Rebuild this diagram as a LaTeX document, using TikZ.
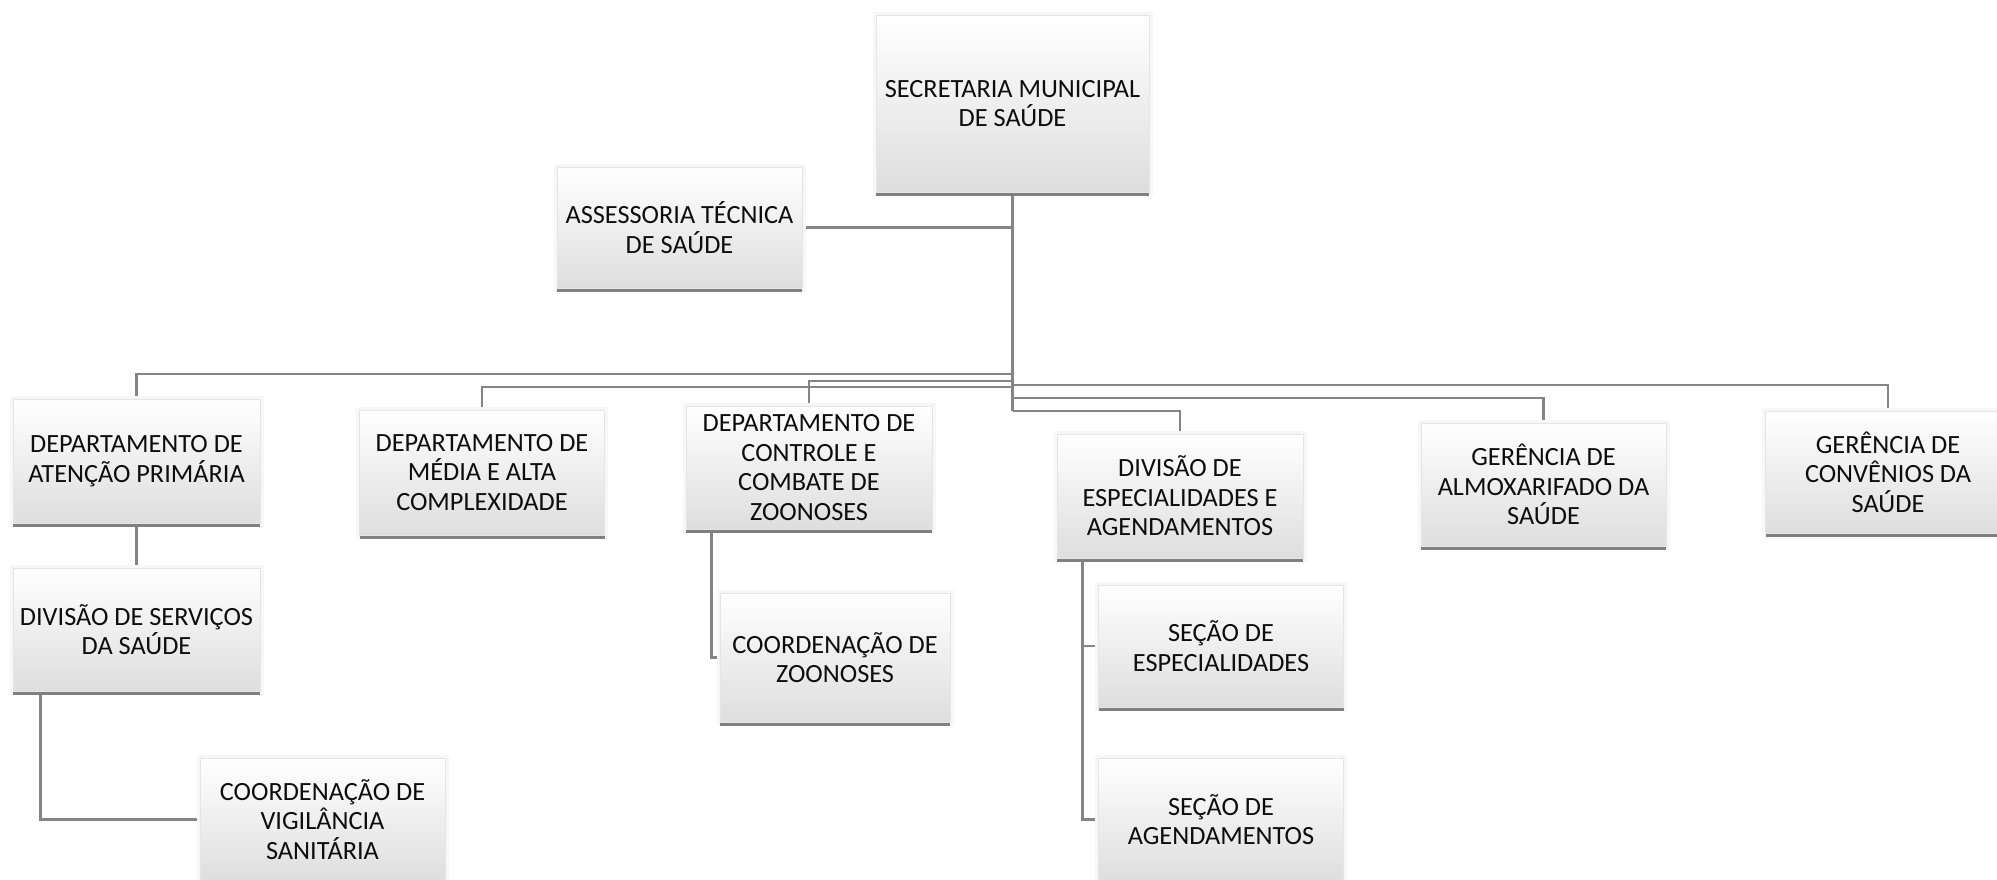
\documentclass[tikz,border=0pt]{standalone}
\usepackage{fontspec}
\setmainfont{Carlito}
\usetikzlibrary{shadows}
\pgfdeclarelayer{bg}
\pgfsetlayers{bg,main}
\newcommand\boxfont{\fontsize{26.3}{29.5}\selectfont}
\tikzset{
  orgbox/.style={rectangle, inner sep=0pt, align=center, font=\boxfont, text=black!95,
    minimum width=245pt, minimum height=123pt,
    preaction={draw=black!3, line width=7pt},
    drop shadow={shadow xshift=0pt, shadow yshift=-4pt, fill=black!50, opacity=1},
    top color=white, middle color=white, bottom color=black!13,
    draw=black!10, line width=0.8pt},
  conn/.style={draw=black!48, line width=2.7pt}
}
\begin{document}
\begin{tikzpicture}[x=1pt, y=-1pt]
\useasboundingbox (0,0) rectangle (1997,879);
\begin{pgfonlayer}{bg}
\fill[white] (0,0) rectangle (1997,879);
\end{pgfonlayer}

\node[orgbox, minimum width=273pt, minimum height=177pt] (sec) at (1012.5,103.5) {SECRETARIA MUNICIPAL\\DE SAÚDE};
\node[orgbox, minimum height=121pt] (ass) at (679.5,227.5) {ASSESSORIA TÉCNICA\\DE SAÚDE};
\node[orgbox, minimum width=247pt, minimum height=124pt] (aten) at (136.5,461) {DEPARTAMENTO DE\\ATENÇÃO PRIMÁRIA};
\node[orgbox, minimum height=125pt] (media) at (482,472.5) {DEPARTAMENTO DE\\MÉDIA E ALTA\\COMPLEXIDADE};
\node[orgbox, minimum width=246pt] (contr) at (809,467.5) {DEPARTAMENTO DE\\CONTROLE E\\COMBATE DE\\ZOONOSES};
\node[orgbox, minimum width=246pt, minimum height=124pt] (divesp) at (1180,496) {DIVISÃO DE\\ESPECIALIDADES E\\AGENDAMENTOS};
\node[orgbox] (almox) at (1543.5,484.5) {GERÊNCIA DE\\ALMOXARIFADO DA\\SAÚDE};
\node[orgbox, minimum height=122pt] (conv) at (1888,472) {GERÊNCIA DE\\CONVÊNIOS DA\\SAÚDE};
\node[orgbox, minimum width=247pt] (divserv) at (136.5,629.5) {DIVISÃO DE SERVIÇOS\\DA SAÚDE};
\node[orgbox] (vigil) at (322.5,819.5) {COORDENAÇÃO DE\\VIGILÂNCIA\\SANITÁRIA};
\node[orgbox, minimum width=230pt, minimum height=129pt] (zoon) at (835,657.5) {COORDENAÇÃO DE\\ZOONOSES};
\node[orgbox, minimum height=122pt] (secesp) at (1221,646) {SEÇÃO DE\\ESPECIALIDADES};
\node[orgbox] (secag) at (1221,819.5) {SEÇÃO DE\\AGENDAMENTOS};

\begin{pgfonlayer}{bg}
\draw[conn] (sec.south) -- (sec.south |- 0,411);
\draw[conn] (sec.south |- 0,374) -| (aten.north);
\draw[conn] (sec.south |- 0,381) -| (contr.north);
\draw[conn] (sec.south |- 0,387) -| (media.north);
\draw[conn] (sec.south |- 0,385) -| (conv.north);
\draw[conn] (sec.south |- 0,398) -| (almox.north);
\draw[conn] (sec.south |- 0,411) -| (divesp.north);
\draw[conn] (ass.east) -- (ass.east -| sec.south);
\draw[conn] (aten.south) -- (divserv.north);
\draw[conn] ([xshift=28pt]divserv.south west) |- (vigil.west);
\draw[conn] ([xshift=26pt]contr.south west) |- (zoon.west);
\draw[conn] ([xshift=26pt]divesp.south west) |- (secesp.west);
\draw[conn] ([xshift=26pt]divesp.south west) |- (secag.west);
\end{pgfonlayer}
\end{tikzpicture}
\end{document}
